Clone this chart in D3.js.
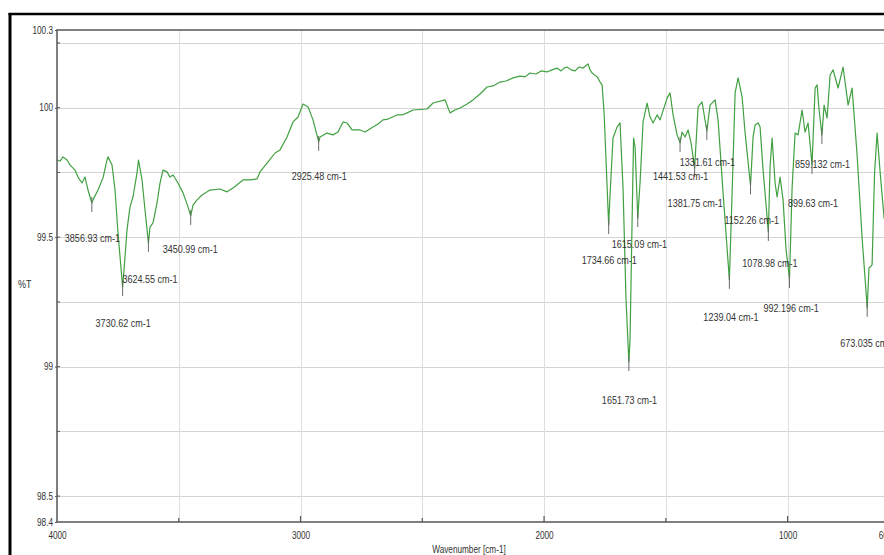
<!DOCTYPE html>
<html>
<head>
<meta charset="utf-8">
<script src="https://cdn.jsdelivr.net/npm/d3@7"></script>
<style>
  html, body { margin: 0; padding: 0; background: #fff; }
  svg { display: block; }
  text { font-family: "Liberation Sans", Arial, sans-serif; fill: #333; }
</style>
</head>
<body>
<svg id="chart" width="884" height="555"></svg>
<script>
// IR spectrum: wavenumber (cm-1) and transmittance (%T)
const wavenumber = [
  4000, 3987.7, 3975.4, 3958.9, 3946.6, 3926.1, 3913.8, 3897.3, 3885.0, 3872.7,
  3856.93, 3852.2, 3831.6, 3811.1, 3794.7, 3790.6, 3774.1, 3761.8, 3749.5, 3730.62,
  3724.8, 3712.5, 3700.2, 3687.9, 3671.5, 3665.3, 3650.9, 3638.6, 3624.55, 3618.1,
  3605.7, 3589.3, 3577.0, 3564.7, 3548.3, 3535.9, 3523.6, 3503.1, 3482.5, 3462.0,
  3450.99, 3441.5, 3425.0, 3404.5, 3371.7, 3330.6, 3301.8, 3277.2, 3236.1, 3207.4,
  3178.6, 3166.3, 3137.6, 3104.7, 3084.2, 3055.4, 3030.8, 3010.3, 2989.7, 2969.2,
  2948.7, 2925.48, 2919.9, 2891.2, 2866.6, 2846.0, 2825.5, 2809.1, 2788.5, 2755.7,
  2735.1, 2702.3, 2681.7, 2661.2, 2640.6, 2603.7, 2583.2, 2562.6, 2538.0, 2480.5,
  2455.9, 2406.6, 2386.1, 2365.5, 2345.0, 2316.2, 2291.6, 2262.8, 2234.1, 2209.4,
  2180.7, 2156.1, 2127.3, 2098.6, 2078.0, 2057.5, 2032.8, 2012.3, 1987.7, 1967.1,
  1946.6, 1930.2, 1917.9, 1905.5, 1889.1, 1872.7, 1856.3, 1839.8, 1819.3, 1811.1,
  1802.9, 1782.3, 1770.0, 1761.8, 1753.6, 1734.66, 1729.1, 1716.8, 1700.4, 1688.0,
  1675.7, 1663.4, 1651.73, 1646.8, 1638.6, 1632.4, 1626.3, 1615.09, 1605.7, 1593.4,
  1577.0, 1564.7, 1552.3, 1535.9, 1523.6, 1494.8, 1482.5, 1470.2, 1453.8, 1441.53,
  1433.3, 1421.0, 1408.6, 1396.3, 1381.75, 1367.5, 1351.1, 1331.61, 1318.3, 1297.7,
  1285.4, 1264.9, 1239.04, 1227.8, 1215.5, 1203.2, 1186.7, 1174.4, 1152.26, 1141.7,
  1133.5, 1121.1, 1112.9, 1100.6, 1078.98, 1071.9, 1063.6, 1051.3, 1043.1, 1030.8,
  1018.5, 1006.2, 992.196, 981.5, 969.2, 956.9, 940.5, 928.2, 915.9, 899.63,
  887.0, 878.8, 870.6, 859.132, 850.1, 837.8, 825.4, 813.1, 792.6, 772.1,
  751.5, 735.1, 714.6, 694.0, 673.035, 665.8, 653.1, 642.7, 632.4, 620.1,
  603.7, 600
];
const transmittance = [
  99.798, 99.794, 99.810, 99.798, 99.779, 99.759, 99.732, 99.709, 99.732, 99.682,
  99.632, 99.644, 99.682, 99.729, 99.798, 99.810, 99.779, 99.682, 99.516, 99.308,
  99.373, 99.528, 99.617, 99.655, 99.748, 99.798, 99.721, 99.605, 99.478, 99.539,
  99.555, 99.632, 99.709, 99.759, 99.752, 99.732, 99.740, 99.709, 99.671, 99.617,
  99.582, 99.624, 99.644, 99.663, 99.682, 99.686, 99.675, 99.690, 99.721, 99.721,
  99.725, 99.752, 99.786, 99.825, 99.837, 99.887, 99.945, 99.964, 100.014, 100.003,
  99.953, 99.868, 99.887, 99.902, 99.895, 99.906, 99.945, 99.941, 99.914, 99.914,
  99.906, 99.925, 99.937, 99.953, 99.956, 99.972, 99.972, 99.980, 99.991, 99.995,
  100.018, 100.030, 99.980, 99.991, 99.999, 100.014, 100.030, 100.053, 100.080, 100.084,
  100.099, 100.103, 100.115, 100.122, 100.119, 100.134, 100.130, 100.142, 100.138, 100.146,
  100.153, 100.142, 100.153, 100.157, 100.146, 100.142, 100.157, 100.153, 100.169, 100.146,
  100.134, 100.119, 100.099, 100.088, 99.983, 99.547, 99.663, 99.883, 99.925, 99.941,
  99.690, 99.258, 99.018, 99.111, 99.559, 99.883, 99.848, 99.574, 99.713, 99.945,
  100.018, 99.964, 99.941, 99.972, 99.953, 100.037, 100.057, 99.972, 99.895, 99.864,
  99.906, 99.887, 99.914, 99.864, 99.767, 100.003, 100.022, 99.910, 100.010, 100.030,
  99.953, 99.671, 99.335, 99.671, 100.057, 100.115, 100.041, 99.902, 99.700, 99.887,
  99.933, 99.941, 99.925, 99.759, 99.520, 99.771, 99.883, 99.709, 99.655, 99.732,
  99.644, 99.451, 99.339, 99.690, 99.902, 99.895, 99.991, 99.906, 99.941, 99.779,
  100.076, 100.088, 99.991, 99.895, 100.010, 99.960, 100.126, 100.146, 100.076, 100.157,
  100.010, 100.076, 99.817, 99.497, 99.227, 99.381, 99.393, 99.752, 99.902, 99.752,
  99.574, 99.566
];

// Picked peaks (cm-1), as printed next to each marker
const peakLabels = [
  "3856.93", "3730.62", "3624.55", "3450.99", "2925.48", "1734.66", "1651.73",
  "1615.09", "1441.53", "1381.75", "1331.61", "1239.04", "1152.26", "1078.98",
  "992.196", "899.63", "859.132", "673.035"
];
// Label placement relative to each peak marker, in pixels [dx, dy]
const labelNudge = [
  [-27, 35], [-27, 36], [-26, 36], [-28, 33], [-27, 34], [-27, 35], [-27, 38],
  [-26, 26], [-27, 33], [-27, 35], [-27, 31], [-26, 37], [-26, 35], [-26, 31],
  [-26, 29], [-24, 38], [-27, 29], [-27, 35]
];

const yTickValues = [100.3, 100, 99.5, 99, 98.5, 98.4];
const xTickValues = [4000, 3000, 2000, 1000, 600];

const svg = d3.select("#chart");
const plotL = 57, plotR = 885, plotT = 30, plotB = 522;

const x = d3.scaleLinear().domain([4000, 600]).range([plotL, plotR]);
const y = d3.scaleLinear().domain([98.4, 100.3]).range([plotB, plotT]);

// Outer black frame
svg.append("line").attr("x1", 10).attr("x2", 10).attr("y1", 13).attr("y2", 555)
  .attr("stroke", "#000").attr("stroke-width", 3);
svg.append("line").attr("x1", 8.5).attr("x2", 884).attr("y1", 14).attr("y2", 14)
  .attr("stroke", "#000").attr("stroke-width", 2.5);

// Grid
const gridG = svg.append("g");
gridG.selectAll(".hg").data(d3.range(98.5, 100.26, 0.25))
  .join("line")
  .attr("x1", plotL).attr("x2", plotR)
  .attr("y1", d => Math.round(y(d)) + 0.5).attr("y2", d => Math.round(y(d)) + 0.5)
  .attr("stroke", "#d4d4d4").attr("stroke-width", 1);
gridG.selectAll(".vg").data(d3.range(3500, 600, -500))
  .join("line")
  .attr("x1", d => Math.round(x(d)) + 0.5).attr("x2", d => Math.round(x(d)) + 0.5)
  .attr("y1", plotT).attr("y2", plotB)
  .attr("stroke", "#dedede").attr("stroke-width", 1);

// Spectrum
const spectrum = wavenumber.map((w, i) => [w, transmittance[i]]);
svg.append("path")
  .datum(spectrum)
  .attr("fill", "none")
  .attr("stroke", "#41a041")
  .attr("stroke-width", 1.2)
  .attr("stroke-linejoin", "round")
  .attr("d", d3.line().x(d => x(d[0])).y(d => y(d[1])));

// Transmittance at a given wavenumber
const bis = d3.bisector(d => -d[0]).left;
function tAt(w) {
  const i = Math.max(1, Math.min(spectrum.length - 1, bis(spectrum, -w)));
  const a = spectrum[i - 1], b = spectrum[i];
  const t = (w - a[0]) / (b[0] - a[0]);
  return a[1] + t * (b[1] - a[1]);
}

// Peak markers and labels
const peaks = peakLabels.map((s, i) => ({ w: parseFloat(s), text: s + " cm-1", nudge: labelNudge[i] }));
const pg = svg.append("g");
pg.selectAll("line").data(peaks).join("line")
  .attr("x1", d => x(d.w)).attr("x2", d => x(d.w))
  .attr("y1", d => y(tAt(d.w)) - 6).attr("y2", d => y(tAt(d.w)) + 9)
  .attr("stroke", "#6a6a6a").attr("stroke-width", 1);
pg.selectAll("text").data(peaks).join("text")
  .attr("x", d => x(d.w) + d.nudge[0])
  .attr("y", d => y(tAt(d.w)) + d.nudge[1])
  .attr("dy", "0.35em")
  .attr("font-size", 11)
  .text(d => d.text);

// Axes
const yAxis = d3.axisLeft(y).tickValues(yTickValues).tickSize(2).tickPadding(2)
  .tickFormat(d3.format("~g"));
const yAxisG = svg.append("g").attr("transform", `translate(${plotL},0)`).call(yAxis);
yAxisG.select(".domain").remove();
yAxisG.attr("font-family", null);
yAxisG.selectAll(".tick line").attr("stroke", "#555");
yAxisG.selectAll(".tick text").attr("font-size", 10).attr("fill", "#333");

// inner y ticks
svg.append("g").selectAll("line").data(d3.range(98.5, 100.26, 0.25))
  .join("line")
  .attr("x1", plotL).attr("x2", plotL + 3)
  .attr("y1", d => y(d)).attr("y2", d => y(d))
  .attr("stroke", "#555");

const xAxis = d3.axisBottom(x).tickValues(xTickValues).tickSize(0).tickPadding(10)
  .tickFormat(d3.format("d"));
const xAxisG = svg.append("g").attr("transform", `translate(0,${plotB})`).call(xAxis);
xAxisG.select(".domain").remove();
xAxisG.attr("font-family", null);
xAxisG.selectAll(".tick text").attr("font-size", 10).attr("fill", "#333");

// inner x ticks: majors and half-thousands
svg.append("g").selectAll("line").data(d3.range(3500, 600, -500))
  .join("line")
  .attr("x1", d => x(d)).attr("x2", d => x(d))
  .attr("y1", plotB).attr("y2", d => plotB - (d % 1000 === 0 ? 6 : 4))
  .attr("stroke", "#555").attr("stroke-width", 1.2);

// Plot frame: left, bottom and top edges
svg.append("path")
  .attr("d", `M${plotR},${plotT}H${plotL}V${plotB}H${plotR}`)
  .attr("fill", "none").attr("stroke", "#555").attr("stroke-width", 1.5);

// Axis titles
svg.append("text").attr("x", 18).attr("y", 284).attr("dy", "0.35em")
  .attr("font-size", 11).text("%T");
svg.append("text").attr("x", 469).attr("y", 553)
  .attr("text-anchor", "middle").attr("font-size", 10).text("Wavenumber [cm-1]");

// Narrow lettering: condense every text run horizontally
svg.selectAll("text").each(function () {
  const len = this.getComputedTextLength();
  this.setAttribute("textLength", (len * 0.82).toFixed(1));
  this.setAttribute("lengthAdjust", "spacingAndGlyphs");
});
</script>
</body>
</html>
